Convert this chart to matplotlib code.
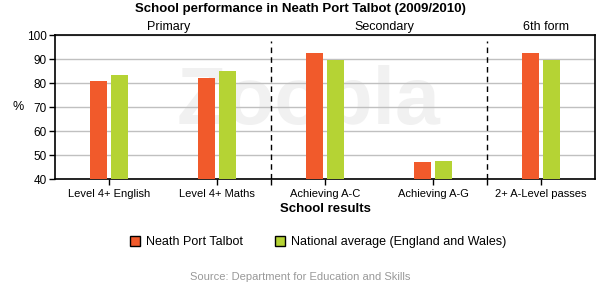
import numpy as np
import matplotlib
matplotlib.use('Agg')
import matplotlib.pyplot as plt
from matplotlib.patches import Patch

plt.rcParams['font.family'] = ['Liberation Sans', 'DejaVu Sans']

# data
categories = ['Level 4+ English', 'Level 4+ Maths', 'Achieving A-C', 'Achieving A-G', '2+ A-Level passes']
neath = [81.0, 82.2, 92.7, 47.3, 92.7]
national = [83.5, 85.2, 89.9, 47.8, 89.9]
sections = ['Primary', 'Secondary', '6th form']
section_bounds = [(-0.5, 1.5), (1.5, 3.5), (3.5, 4.5)]

orange = '#f15a2b'
green = '#b5d334'

fig = plt.figure(figsize=(6, 2.85), dpi=100)
ax = fig.add_axes([0.0917, 0.371, 0.9, 0.505])

x = np.arange(len(categories))
w = 0.157
off = 0.097
ax.bar(x - off, neath, width=w, color=orange, zorder=3)
ax.bar(x + off, national, width=w, color=green, zorder=3)

ax.set_xlim(-0.5, 4.5)
ax.set_ylim(40, 100)
ax.set_yticks(range(40, 101, 10))
ax.set_xticks(x)
ax.set_xticklabels(categories, fontsize=8)
ax.set_xticks([1.5, 3.5], minor=True)
ax.tick_params(axis='y', labelsize=8.5, length=4, width=1, pad=2)
ax.tick_params(axis='x', which='both', length=4, width=1, pad=3)
ax.grid(axis='y', color='#c0c0c0', linewidth=1, zorder=0)
for s in ax.spines.values():
    s.set_linewidth(1.2)

# section separators and labels
for b in [1.5, 3.5]:
    ax.plot([b, b], [40, 97.5], color='black', linestyle=(0, (4, 3)), linewidth=1, zorder=4)
for name, (a, b) in zip(sections, section_bounds):
    ax.text((a + b) / 2 + 0.05, 100.9, name, ha='center', va='bottom', fontsize=9)

# faint watermark
ax.text(1.85, 72, 'Zoopla', ha='center', va='center', fontsize=58, fontweight='bold',
        color='#f1f1f1', zorder=1)

ax.set_ylabel('%', fontsize=9, rotation=0, labelpad=6, va='center')
ax.set_xlabel('School results', fontsize=9.5, fontweight='bold', labelpad=3)
fig.text(0.5, 0.968, 'School performance in Neath Port Talbot (2009/2010)', ha='center',
         va='center', fontsize=9.5, fontweight='bold')

handles = [Patch(facecolor=orange, edgecolor='black', linewidth=1),
           Patch(facecolor=green, edgecolor='black', linewidth=1)]
fig.legend(handles, ['Neath Port Talbot', 'National average (England and Wales)'],
           loc='center', bbox_to_anchor=(0.53, 0.15), ncol=2, frameon=False,
           fontsize=9, handlelength=0.8, handleheight=0.8, handletextpad=0.5,
           columnspacing=2.5)
fig.text(0.5, 0.027, 'Source: Department for Education and Skills', ha='center',
         va='center', fontsize=8, color='#999999')

fig.savefig('out.png', dpi=100)
